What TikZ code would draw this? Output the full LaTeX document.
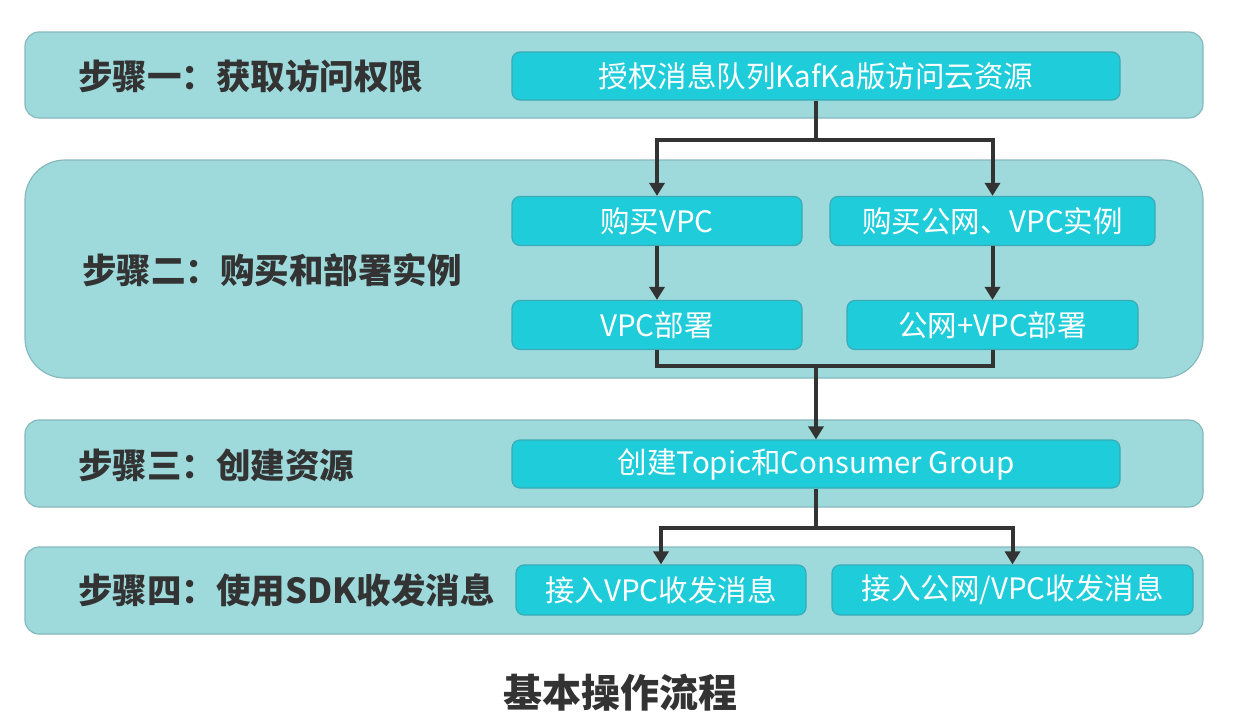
\documentclass[tikz,border=0pt]{standalone}
\usepackage{fontspec}
\setmainfont{Noto Sans CJK SC}
\usetikzlibrary{arrows.meta,calc}
\definecolor{bandfill}{HTML}{9EDADC}
\definecolor{banddraw}{HTML}{86B9BC}
\definecolor{boxfill}{HTML}{1ECCDA}
\definecolor{boxdraw}{HTML}{3AAAB6}
\definecolor{ink}{HTML}{333333}
\tikzset{
  band/.style={fill=bandfill, draw=banddraw, line width=1.2pt},
  stepbox/.style={fill=boxfill, draw=boxdraw, line width=1.2pt, rounded corners=8pt,
    text=white, font=\fontsize{29.5}{32}\selectfont, inner sep=0pt},
  steplabel/.style={anchor=west, text=ink, font=\fontsize{34.5}{38}\selectfont\bfseries, inner sep=0pt},
  link/.style={draw=ink, line width=4pt},
  linkarrow/.style={link, -{Triangle[length=13pt,width=15pt]}}
}
\begin{document}
\begin{tikzpicture}[x=1pt,y=-1pt]
\useasboundingbox[fill=white] (0,0) rectangle (1249,720);
% bands
\draw[band, rounded corners=14pt] (25,32) rectangle (1203,118);
\draw[band, rounded corners=40pt] (25,160) rectangle (1203,378);
\draw[band, rounded corners=14pt] (25,420) rectangle (1203,507);
\draw[band, rounded corners=14pt] (25,547) rectangle (1203,634);
% step labels
\node[steplabel] (L1) at (78,76) {步骤一：获取访问权限};
\node[steplabel] (L2) at (82,270) {步骤二：购买和部署实例};
\node[steplabel] (L3) at (78,465) {步骤三：创建资源};
\node[steplabel] (L4) at (78,590) {步骤四：使用SDK收发消息};
% boxes
\node[stepbox, minimum width=608pt, minimum height=48pt] (A) at (816,76) {授权消息队列KafKa版访问云资源};
\node[stepbox, minimum width=290pt, minimum height=49pt] (B1) at (657,221) {购买VPC};
\node[stepbox, minimum width=325pt, minimum height=49pt] (B2) at (992.5,221) {购买公网、VPC实例};
\node[stepbox, minimum width=290pt, minimum height=49pt] (C1) at (657,325) {VPC部署};
\node[stepbox, minimum width=291pt, minimum height=49pt] (C2) at (992.5,325) {公网+VPC部署};
\node[stepbox, minimum width=608pt, minimum height=48pt] (D) at (816,464) {创建Topic和Consumer Group};
\node[stepbox, minimum width=290pt, minimum height=50pt] (E1) at (661,590) {接入VPC收发消息};
\node[stepbox, minimum width=361pt, minimum height=50pt] (E2) at (1012.5,590) {接入公网/VPC收发消息};
% title
\node[text=ink, font=\fontsize{39}{42}\selectfont\bfseries, inner sep=0pt] (T) at (620,693) {基本操作流程};
% connectors
\coordinate (j1) at (816,140);
\coordinate (j2) at (816,366);
\coordinate (j3) at (816,528);
\draw[link] (A.south) -- (j1);
\draw[linkarrow] (j1) -| (B1.north);
\draw[linkarrow] (j1) -| (B2.north);
\draw[linkarrow] (B1.south) -- (C1.north);
\draw[linkarrow] (B2.south) -- (C2.north);
\draw[link] (C1.south) -- (C1.south |- j2) -- (C2.south |- j2) -- (C2.south);
\draw[linkarrow] (j2) -- (D.north);
\draw[link] (D.south) -- (j3);
\draw[linkarrow] (j3) -| (E1.north);
\draw[linkarrow] (j3) -| (E2.north);
\end{tikzpicture}
\end{document}
